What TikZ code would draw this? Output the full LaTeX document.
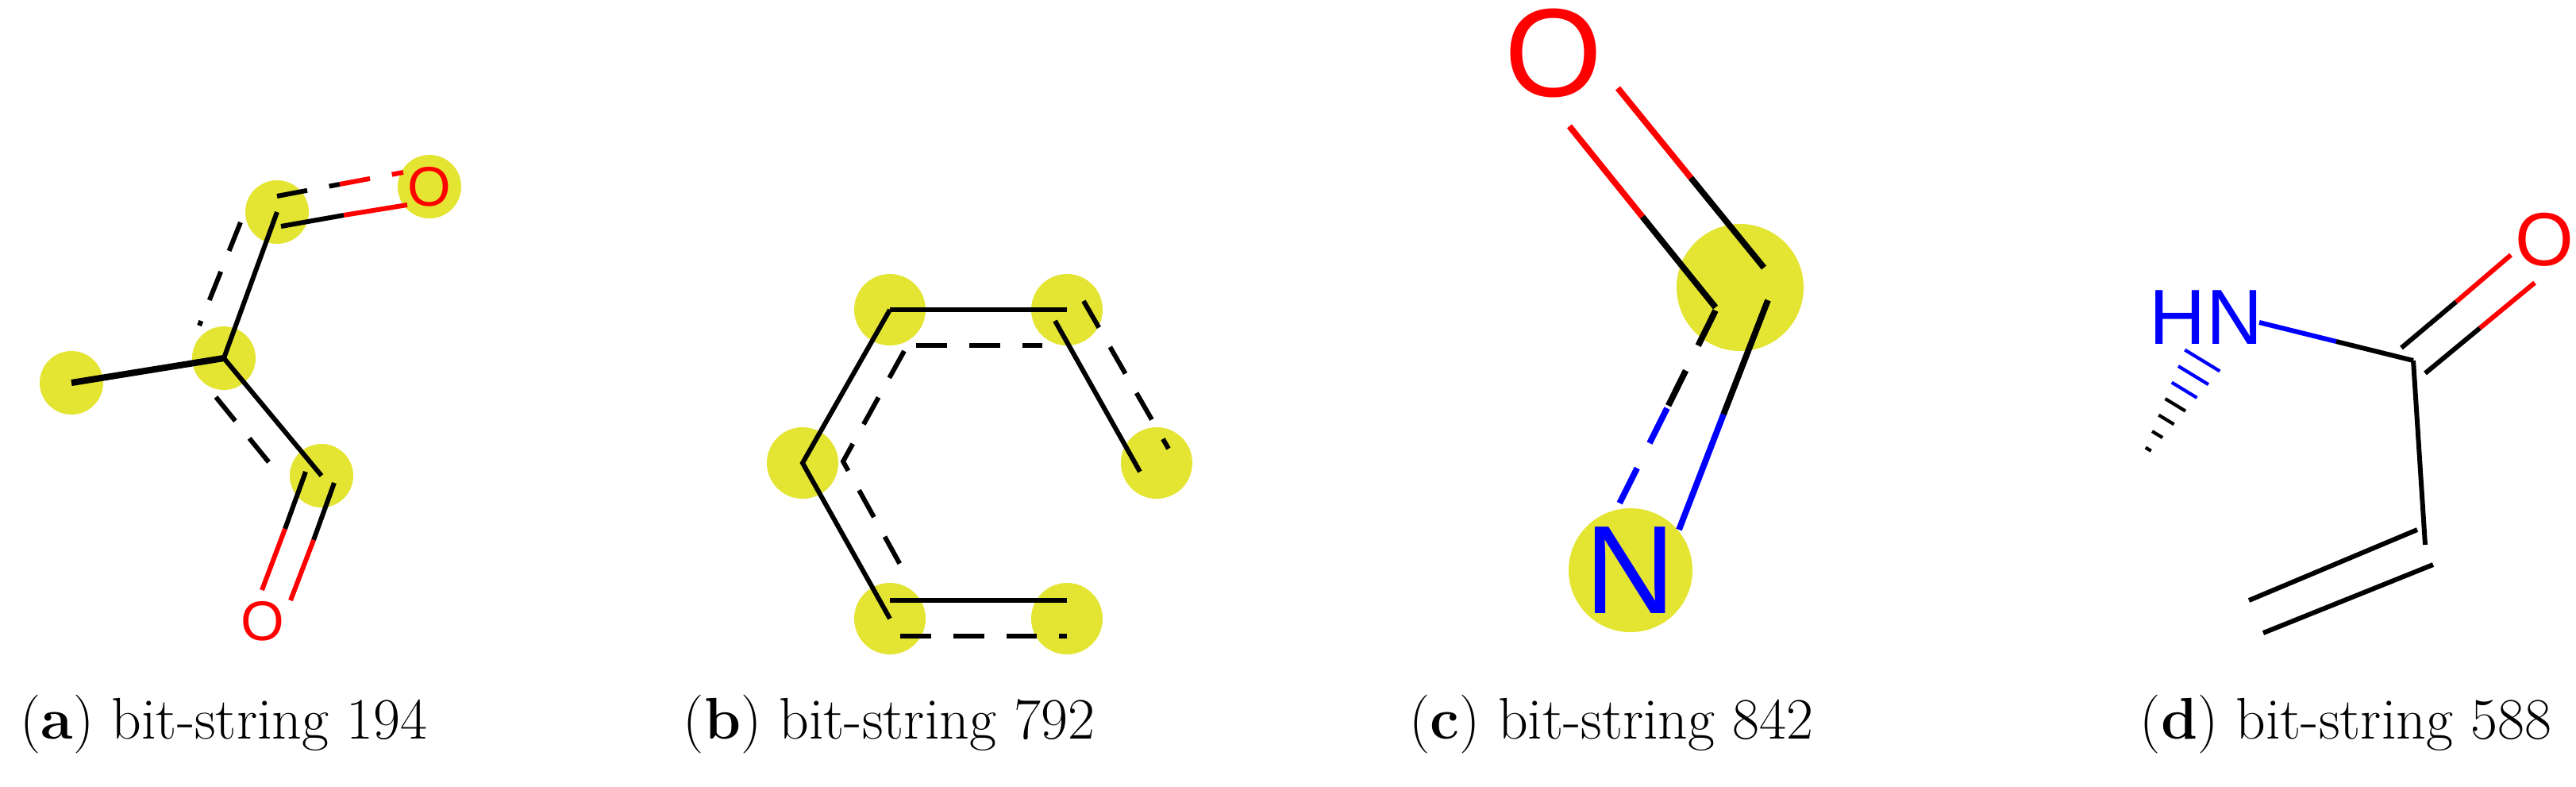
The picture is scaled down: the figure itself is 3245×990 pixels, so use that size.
\documentclass[tikz,border=0pt]{standalone}
\usepackage{fontspec}
\newfontfamily\chem{Liberation Sans}
\definecolor{hl}{RGB}{228,228,50}
\begin{document}
\begin{tikzpicture}[x=0.01cm,y=-0.01cm,
  hlt/.style={fill=hl},
  bond/.style={line width=1.7pt},
  dbond/.style={line width=1.7pt,dash pattern=on 11pt off 8pt},
  bbond/.style={line width=2.2pt},
  dbbond/.style={line width=2.2pt,dash pattern=on 14pt off 10pt},
  captext/.style={font=\fontsize{21}{25}\selectfont,anchor=base}]
\useasboundingbox (0,0) rectangle (3245,990);
\fill[white] (0,0) rectangle (3245,990);
% ---------- panel a
\coordinate (a1) at (90,482);
\coordinate (a2) at (282,451);
\coordinate (a3) at (349,267);
\coordinate (a4) at (541,235);
\coordinate (a5) at (405,599);
\coordinate (a6) at (331,782);
\foreach \n in {a1,a2,a3,a4,a5} \fill[hlt] (\n) circle (40);
\draw[line width=2.3pt] (a1) -- (a2);
\draw[bond] (a2) -- (a3);
\draw[dbond] (303,280) -- (251,410);
\draw[bond] (a2) -- (a5);
\draw[dbond] (272,500) -- (354,601);
\draw[bond] (354,285) -- (433,271);
\draw[bond,red] (433,271) -- (513,258);
\draw[dbond] (349,247) -- (428,232);
\draw[dbond,red] (428,232) -- (508,217);
\draw[bond] (385,594) -- (359,666);
\draw[bond,red] (359,666) -- (330,743);
\draw[bond] (421,608) -- (395,680);
\draw[bond,red] (395,680) -- (366,756);
\node[red,font=\chem\fontsize{20}{20}\selectfont,inner sep=0] (oa1) at (a4) {O};
\node[red,font=\chem\fontsize{20}{20}\selectfont,inner sep=0] (oa2) at (a6) {O};
\node[captext] (capa) at (282,930) {(\textbf{a}) bit-string 194};
% ---------- panel b
\coordinate (b1) at (1121,390);
\coordinate (b2) at (1344,390);
\coordinate (b3) at (1011,583);
\coordinate (b4) at (1457,583);
\coordinate (b5) at (1121,779);
\coordinate (b6) at (1344,779);
\foreach \n in {b1,b2,b3,b4,b5,b6} \fill[hlt] (\n) circle (45);
\draw[bond] (b1) -- (b2);
\draw[dbond] (1154,435) -- (1313,435);
\draw[bond] (1329,404) -- (1436,594);
\draw[dbond] (1365,379) -- (1472,565);
\draw[bond] (b1) -- (b3) -- (b5);
\draw[dbond] (1139,442) -- (1062,581) -- (1144,729);
\draw[bond] (1121,756) -- (1344,756);
\draw[dbond] (1134,801) -- (1344,801);
\node[captext] (capb) at (1120,930) {(\textbf{b}) bit-string 792};
% ---------- panel c
\coordinate (c1) at (2192,362);
\coordinate (c2) at (2054,718);
\coordinate (c3) at (1957,67);
\fill[hlt] (c1) circle (80);
\fill[hlt] (c2) circle (78);
\draw[bbond,red] (1977,159) -- (2069,273);
\draw[bbond] (2069,273) -- (2161,387);
\draw[bbond,red] (2038,111) -- (2130,224);
\draw[bbond] (2130,224) -- (2222,337);
\draw[bbond] (2227,378) -- (2171,522);
\draw[bbond,blue] (2171,522) -- (2115,667);
\draw[dbbond] (2161,391) -- (2100,514);
\draw[dbbond,blue] (2100,514) -- (2038,638);
\node[red,font=\chem\fontsize{45}{45}\selectfont,inner sep=0] (oc) at (c3) {O};
\node[blue,font=\chem\fontsize{45}{45}\selectfont,inner sep=0] (nc) at (c2) {N};
\node[captext] (capc) at (2030,930) {(\textbf{c}) bit-string 842};
% ---------- panel d
\coordinate (d1) at (2779,400);
\coordinate (d2) at (3205,302);
\coordinate (d3) at (3040,454);
\coordinate (d4) at (3055,686);
\node[blue,font=\chem\fontsize{28}{28}\selectfont,inner sep=0] (nd) at (d1) {HN};
\node[red,font=\chem\fontsize{27}{27}\selectfont,inner sep=0] (od) at (d2) {O};
\draw[bond,blue] (2846,406) -- (2943,430);
\draw[bond] (2943,430) -- (d3);
\draw[bond] (3025,438) -- (3094,380);
\draw[bond,red] (3094,380) -- (3163,321);
\draw[bond] (3055,470) -- (3124,413);
\draw[bond,red] (3124,413) -- (3193,356);
\draw[bond] (d3) -- (d4);
\draw[bond] (3045,667) -- (2833,756);
\draw[bond] (3065,711) -- (2851,797);
\foreach \t/\hc in {0.12/blue,0.26/blue,0.40/blue,0.54/black,0.68/black,0.82/black,0.96/black}{
  \pgfmathsetmacro{\w}{26*(1-\t)+3}
  \pgfmathsetmacro{\cx}{2784-81*\t}
  \pgfmathsetmacro{\cy}{438+133*\t}
  \draw[line width=1.2pt,\hc] (\cx-0.853*\w,\cy-0.519*\w) -- (\cx+0.853*\w,\cy+0.519*\w);
}
\node[captext] (capd) at (2955,930) {(\textbf{d}) bit-string 588};
\end{tikzpicture}
\end{document}
